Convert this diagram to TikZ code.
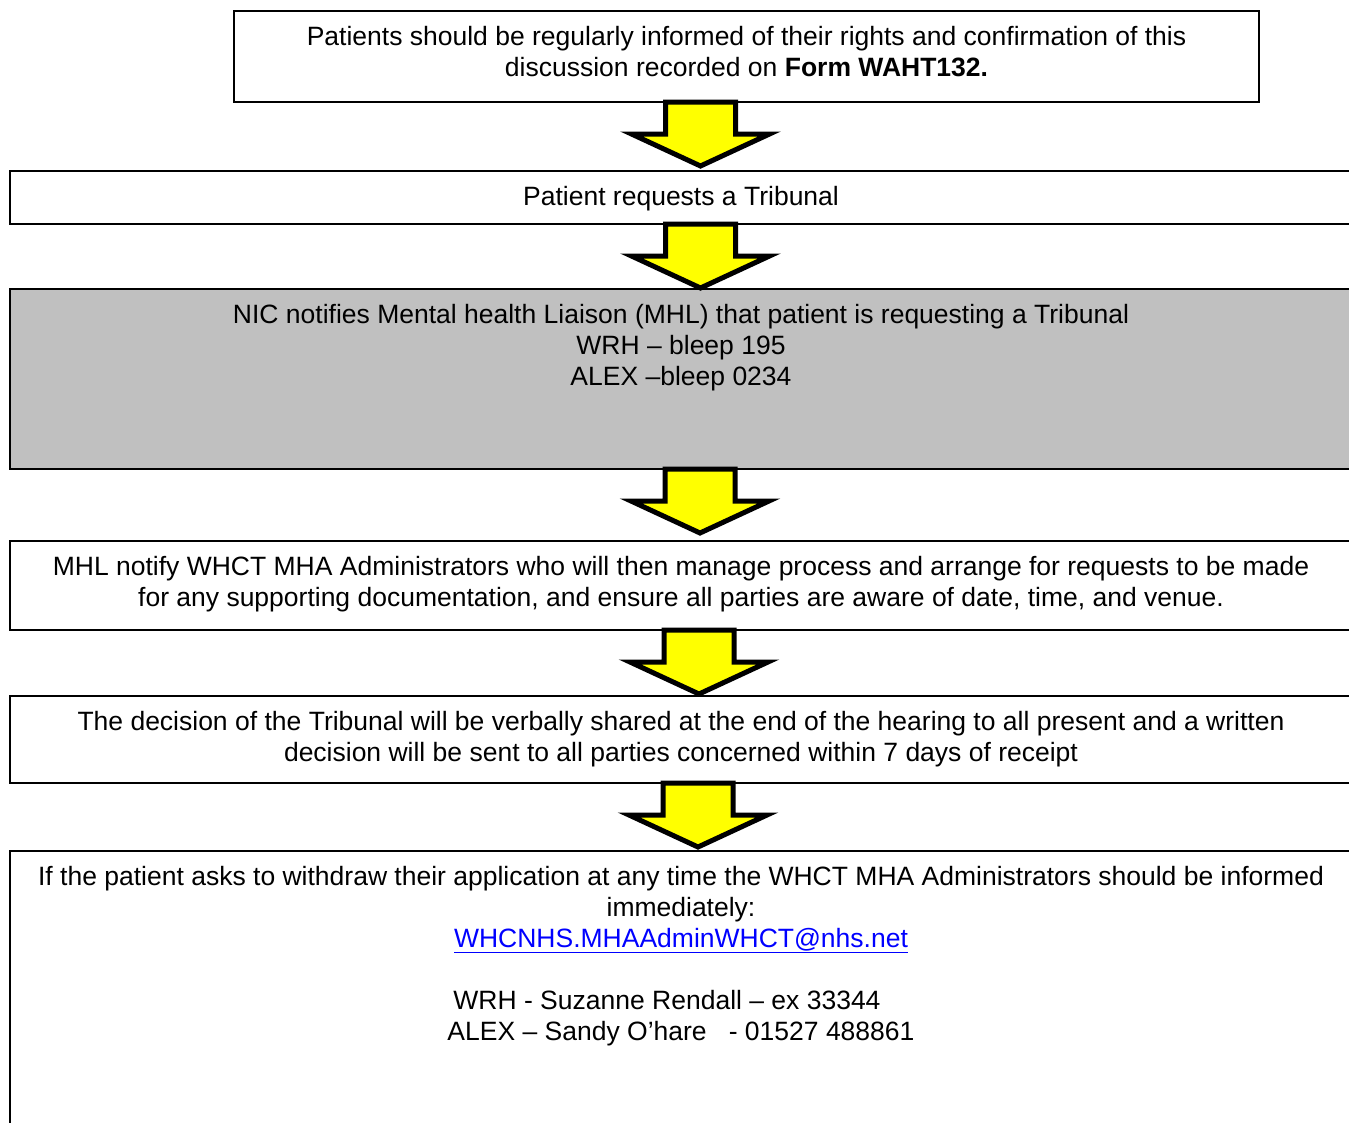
\documentclass[tikz,border=0pt]{standalone}
\usepackage{fontspec}
\setmainfont{Liberation Sans}
\usetikzlibrary{calc}
\definecolor{boxgray}{HTML}{C0C0C0}
\definecolor{arrowyellow}{HTML}{FFFF00}
\definecolor{linkblue}{HTML}{0000FF}
\begin{document}
\begin{tikzpicture}[x=1pt,y=-1pt,
  flowbox/.style={draw, line width=2.6pt, anchor=north west, inner sep=0pt, outer sep=0pt},
  flowtext/.style={font=\fontsize{26.5}{31}\selectfont, align=center, anchor=base, inner sep=0pt},
  blockarrow/.style={draw, line width=5pt, fill=arrowyellow, line join=miter}]
\useasboundingbox (0,0) rectangle (1349,1122);
\clip (0,0) rectangle (1349,1122);
% boxes
\node[flowbox, minimum width=1025pt, minimum height=91pt] (b1) at (234,11) {};
\node[flowbox, minimum width=1343pt, minimum height=53pt] (b2) at (10,171) {};
\node[flowbox, fill=boxgray, minimum width=1343pt, minimum height=180pt] (b3) at (10,289) {};
\node[flowbox, minimum width=1343pt, minimum height=89pt] (b4) at (10,541) {};
\node[flowbox, minimum width=1343pt, minimum height=87pt] (b5) at (10,696) {};
\node[flowbox, minimum width=1343pt, minimum height=300pt] (b6) at (10,851) {};
% texts (anchor base = baseline of the last line)
\node[flowtext] (t1) at (746.5,76) {Patients should be regularly informed of their rights and confirmation of this\\discussion recorded on \textbf{Form WAHT132.}};
\node[flowtext] (t2) at (681,205) {Patient requests a Tribunal};
\node[flowtext] (t3) at (681,385) {NIC notifies Mental health Liaison (MHL) that patient is requesting a Tribunal\\WRH – bleep 195\\ALEX –bleep 0234};
\node[flowtext] (t4) at (681,606) {MHL notify WHCT MHA Administrators who will then manage process and arrange for requests to be made\\for any supporting documentation, and ensure all parties are aware of date, time, and venue.};
\node[flowtext] (t5) at (681,761) {The decision of the Tribunal will be verbally shared at the end of the hearing to all present and a written\\decision will be sent to all parties concerned within 7 days of receipt};
\node[flowtext] (t6) at (681,1040) {If the patient asks to withdraw their application at any time the WHCT MHA Administrators should be informed\\immediately:\\{\color{linkblue}\underline{WHCNHS.MHAAdminWHCT@nhs.net}}\\[31pt]WRH - Suzanne Rendall – ex 33344\rule{28pt}{0pt}\\ALEX – Sandy O’hare~~~- 01527 488861};
% block arrows
\foreach \src/\cx in {b1/700.5,b2/700.5,b3/700,b4/699,b5/698}{
  \draw[blockarrow] let \p1=(\src.south) in
    (\cx pt-35pt,\y1) -- (\cx pt+35pt,\y1) -- (\cx pt+35pt,\y1-32pt) -- (\cx pt+69pt,\y1-32pt)
    -- (\cx pt,\y1-64pt) -- (\cx pt-69pt,\y1-32pt) -- (\cx pt-35pt,\y1-32pt) -- cycle;
}
\end{tikzpicture}
\end{document}
